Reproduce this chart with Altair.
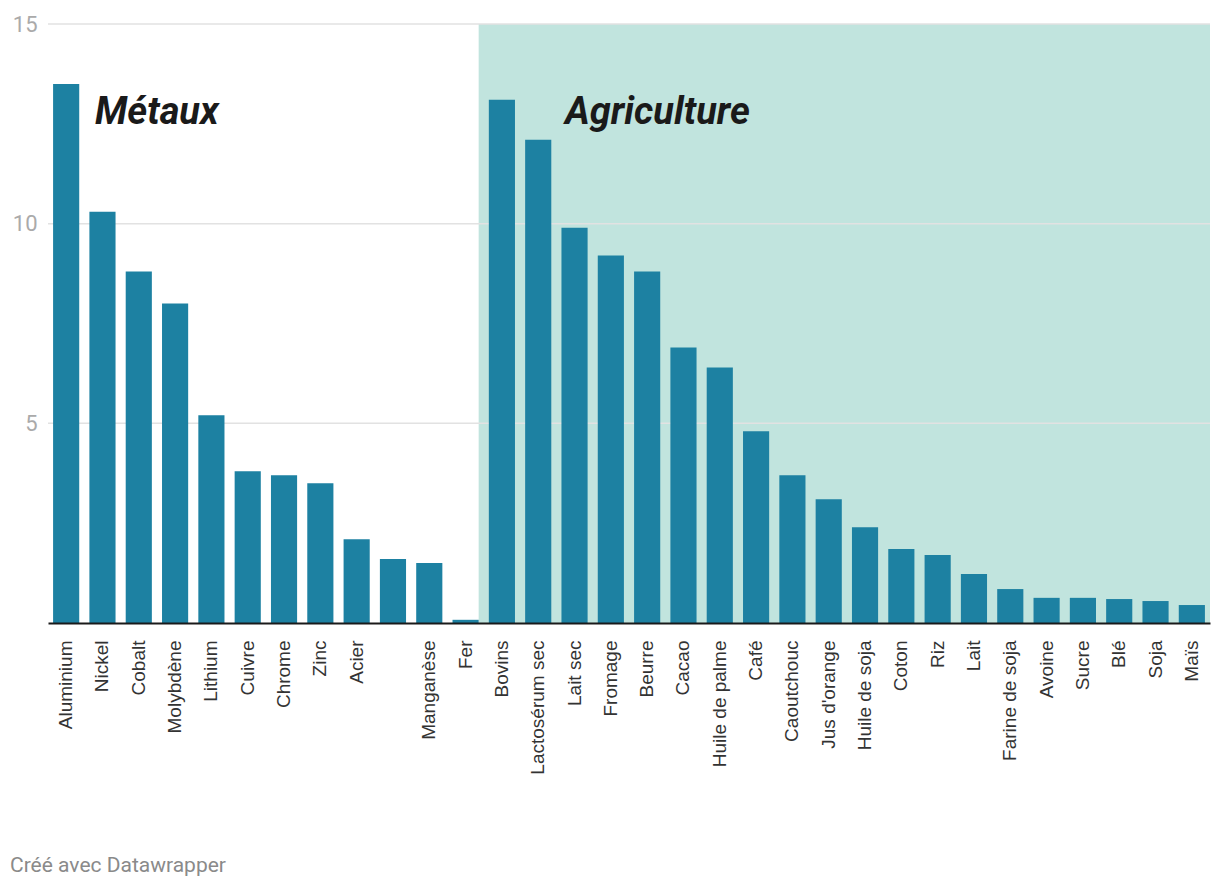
import altair as alt
import pandas as pd

categories = ["Aluminium", "Nickel", "Cobalt", "Molybdène", "Lithium", "Cuivre", "Chrome",
              "Zinc", "Acier", " ", "Manganèse", "Fer",
              "Bovins", "Lactosérum sec", "Lait sec", "Fromage", "Beurre", "Cacao",
              "Huile de palme", "Café", "Caoutchouc", "Jus d'orange", "Huile de soja",
              "Coton", "Riz", "Lait", "Farine de soja", "Avoine", "Sucre", "Blé", "Soja", "Maïs"]
values = [13.5, 10.3, 8.8, 8.0, 5.2, 3.8, 3.7, 3.5, 2.1, 1.6, 1.5, 0.08,
          13.1, 12.1, 9.9, 9.2, 8.8, 6.9, 6.4, 4.8, 3.7, 3.1, 2.4,
          1.85, 1.7, 1.23, 0.85, 0.63, 0.63, 0.6, 0.55, 0.45]
grid_values = [5, 10, 15]
group_labels = ["Métaux", "Agriculture"]
group_label_y = [12.5, 12.5]
group_label_px = [47, 517]

df = pd.DataFrame({"cat": categories, "val": values})
grid_df = pd.DataFrame({"g": grid_values})
lab_df = pd.DataFrame({"t": group_labels, "y": group_label_y, "px": group_label_px})

W, H = 1162, 599
BAR = "#1d81a2"
SHADE = "#c1e4de"

xscale = alt.Scale(domain=categories, paddingInner=0.28, paddingOuter=0.14)
yscale = alt.Scale(domain=[0, 15], nice=False, zero=True)

x_axis = alt.Axis(title=None, labelAngle=-90, labelFont="Liberation Sans", labelFontSize=19,
                  labelColor="#333333", labelPadding=17, ticks=False, domain=True,
                  domainColor="#1a1a1a", domainWidth=2, grid=False, zindex=1,
                  labelOverlap=False, labelLimit=300)
y_axis = alt.Axis(title=None, values=grid_values, labelFont="Roboto", labelFontSize=22,
                  labelColor="#aaaaaa", labelPadding=11, ticks=False, domain=False, grid=False)

shade = alt.Chart(pd.DataFrame({"a": [0]})).mark_rect(color=SHADE).encode(
    x=alt.X(datum="Fer", bandPosition=1, scale=xscale, axis=x_axis, type="nominal"),
    x2=alt.value("width"),
    y=alt.Y(datum=15, type="quantitative", scale=yscale, axis=y_axis),
    y2=alt.Y2(datum=0),
)

grid = alt.Chart(grid_df).mark_rule(color="#e2e2e2", strokeWidth=1.5).encode(
    y=alt.Y("g:Q", scale=yscale, axis=y_axis)
)

bars = alt.Chart(df).mark_bar(color=BAR).encode(
    x=alt.X("cat:N", scale=xscale, sort=categories, axis=x_axis),
    y=alt.Y("val:Q", scale=yscale, axis=y_axis),
)

labels = alt.Chart(lab_df).mark_text(
    font="Roboto", fontSize=38, fontStyle="italic", fontWeight="bold",
    color="#1a1a1a", align="left", baseline="alphabetic"
).encode(
    x=alt.X("px:Q", scale=None),
    y=alt.Y("y:Q", scale=yscale, axis=y_axis),
    text="t:N",
)

footer = alt.Chart(pd.DataFrame({"t": ["Créé avec Datawrapper"]})).mark_text(
    font="Roboto", fontSize=21, color="#8a8a8a", align="left", baseline="middle"
).encode(
    x=alt.value(-38),
    y=alt.value(842),
    text="t:N",
)

chart = alt.layer(shade, grid, bars, labels, footer).properties(
    width=W, height=H,
    autosize=alt.AutoSizeParams(type="none"),
    padding={"left": 40, "top": 16, "right": 2, "bottom": 258},
).configure(background="white", view=alt.ViewConfig(stroke=None))

chart.save("out.html", embed_options={"renderer": "svg", "actions": False})
